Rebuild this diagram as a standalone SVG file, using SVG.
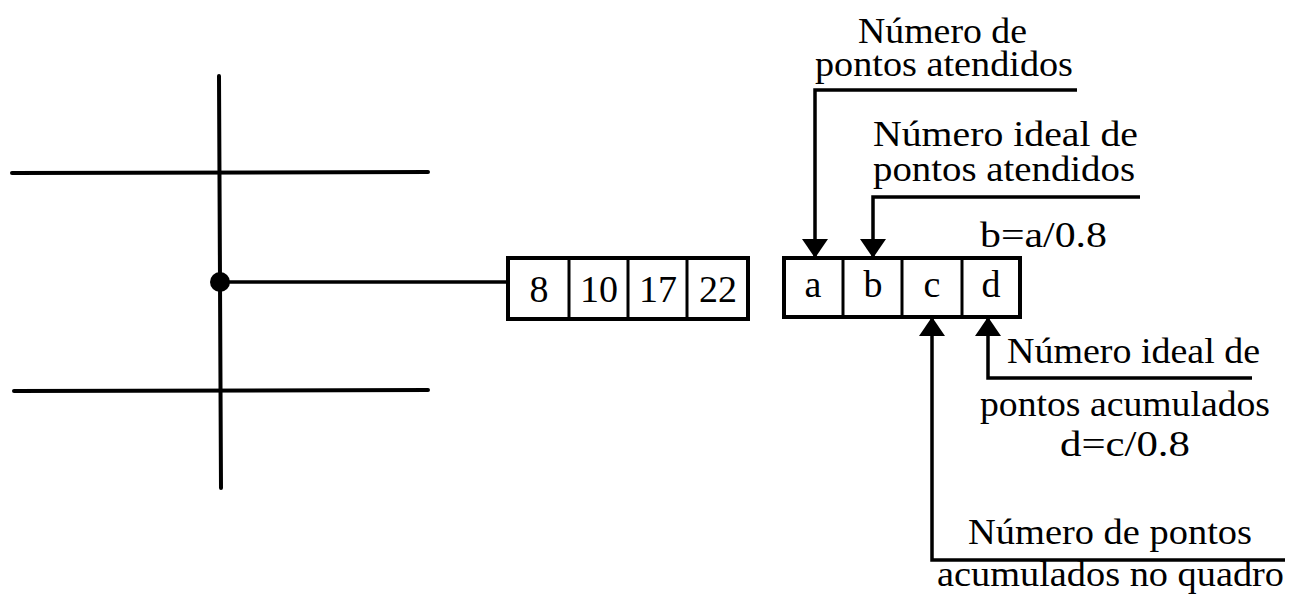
<svg xmlns="http://www.w3.org/2000/svg" width="1292" height="597" viewBox="0 0 1292 597">
  <style>
    .ln { stroke: #000; stroke-width: 4; fill: none; stroke-linecap: round; }
    .cn { stroke: #000; stroke-width: 3.5; fill: none; }
    .box { stroke: #000; stroke-width: 4; fill: #fff; }
    .div { stroke: #000; stroke-width: 3; }
    .t { font-family: "Liberation Serif", "DejaVu Serif", serif; font-size: 36px; fill: #000; }
    .v { font-size: 38px; }
    .c { text-anchor: middle; }
  </style>
  <defs>
    <marker id="arrow" markerUnits="userSpaceOnUse" markerWidth="19" markerHeight="26" viewBox="0 0 19 26" refX="19" refY="13" orient="auto">
      <polygon points="0,0 19,13 0,26" fill="#000"/>
    </marker>
  </defs>

  <!-- street grid -->
  <g id="grid">
    <line class="ln" x1="219" y1="76" x2="221" y2="488"/>
    <line class="ln" x1="12" y1="173" x2="428" y2="172"/>
    <line class="ln" x1="14" y1="391" x2="428" y2="390"/>
    <line class="cn" x1="219" y1="282" x2="508" y2="282"/>
    <circle cx="220" cy="282" r="10" fill="#000"/>
  </g>

  <!-- value box -->
  <g id="values">
    <rect class="box" x="508" y="258" width="240" height="61"/>
    <line class="div" x1="569" y1="258" x2="569" y2="319"/>
    <line class="div" x1="628" y1="258" x2="628" y2="319"/>
    <line class="div" x1="687" y1="258" x2="687" y2="319"/>
    <text class="t v c" x="539" y="302">8</text>
    <text class="t v c" x="599" y="302">10</text>
    <text class="t v c" x="658" y="302">17</text>
    <text class="t v c" x="718" y="302">22</text>
  </g>

  <!-- legend box -->
  <g id="legend">
    <rect class="box" x="784" y="258" width="236" height="59"/>
    <line class="div" x1="843" y1="258" x2="843" y2="317"/>
    <line class="div" x1="902" y1="258" x2="902" y2="317"/>
    <line class="div" x1="962" y1="258" x2="962" y2="317"/>
    <text class="t v c" x="813" y="297">a</text>
    <text class="t v c" x="873" y="297">b</text>
    <text class="t v c" x="932" y="297">c</text>
    <text class="t v c" x="991" y="297">d</text>
  </g>

  <!-- labels -->
  <g id="label-a">
    <text class="t"><tspan x="858" y="43" textLength="169" lengthAdjust="spacingAndGlyphs">Número de</tspan><tspan x="815" y="76" textLength="258" lengthAdjust="spacingAndGlyphs">pontos atendidos</tspan></text>
  </g>
  <g id="label-b">
    <text class="t"><tspan x="873" y="146" textLength="265" lengthAdjust="spacingAndGlyphs">Número ideal de</tspan><tspan x="873" y="181" textLength="262" lengthAdjust="spacingAndGlyphs">pontos atendidos</tspan></text>
    <text class="t" x="980" y="247" textLength="127" lengthAdjust="spacingAndGlyphs">b=a/0.8</text>
  </g>
  <g id="label-d">
    <text class="t" x="1007" y="363" textLength="253" lengthAdjust="spacingAndGlyphs">Número ideal de</text>
    <text class="t" x="980" y="416" textLength="290" lengthAdjust="spacingAndGlyphs">pontos acumulados</text>
    <text class="t" x="1060" y="456" textLength="130" lengthAdjust="spacingAndGlyphs">d=c/0.8</text>
  </g>
  <g id="label-c">
    <text class="t" x="968" y="544" textLength="284" lengthAdjust="spacingAndGlyphs">Número de pontos</text>
    <text class="t" x="937" y="586" textLength="347" lengthAdjust="spacingAndGlyphs">acumulados no quadro</text>
  </g>

  <!-- connectors -->
  <g id="connectors">
    <path class="cn" d="M1077,90 H815 V258" marker-end="url(#arrow)"/>
    <path class="cn" d="M1140,197 H873 V258" marker-end="url(#arrow)"/>
    <path class="cn" d="M1285,560 H932 V317" marker-end="url(#arrow)"/>
    <path class="cn" d="M1252,378 H988 V317" marker-end="url(#arrow)"/>
  </g>
</svg>
